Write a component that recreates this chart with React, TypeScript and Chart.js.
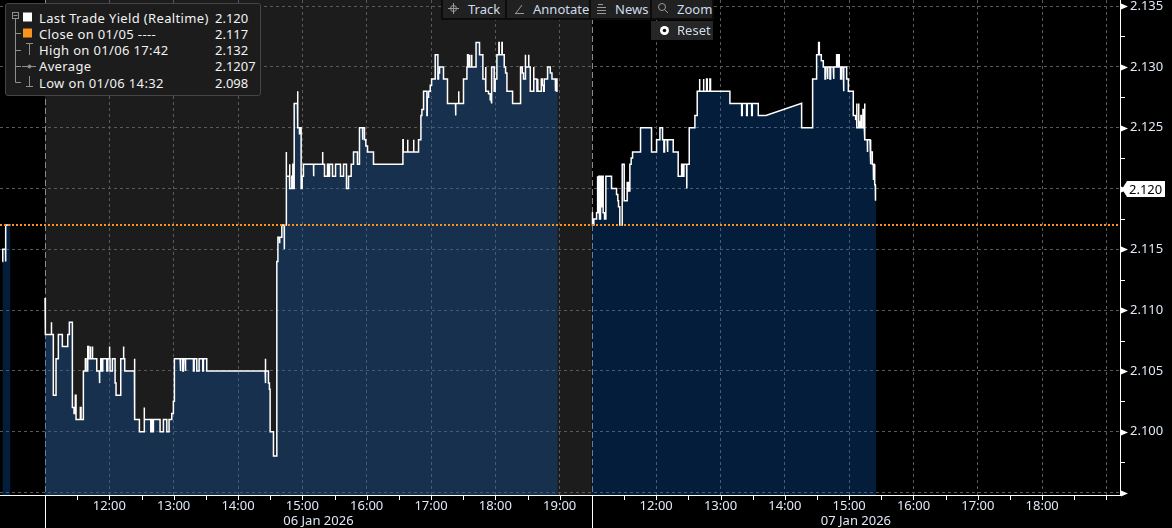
import React, { useEffect, useRef } from "react";
import { Chart, registerables } from "chart.js";

Chart.register(...registerables);

// ---------------- data ----------------
const DAY_LABELS = ["05 Jan 2026", "06 Jan 2026", "07 Jan 2026"];
const SESSION_OPEN = 11; // 11:00
const SESSION_CLOSE = 19.5; // 19:30
const VIEW_START = { day: 0, hour: 18.8 };
const VIEW_END = { day: 2, hour: 19.21 };
const SHADED_DAYS = [1];
const LABELLED_DAYS = [1, 2];
const HOUR_TICKS = [11, 11.5, 12, 12.5, 13, 13.5, 14, 14.5, 15, 15.5, 16, 16.5, 17, 17.5, 18, 18.5, 19];
const Y_TICKS = [2.095, 2.1, 2.105, 2.11, 2.115, 2.12, 2.125, 2.13, 2.135];
const Y_MIN = 2.0948;
const Y_MAX = 2.1355;
const PREV_CLOSE = 2.117;
const LAST_VALUE = 2.12;

const legendRows = [
  { label: "Last Trade Yield (Realtime)", value: "2.120" },
  { label: "Close on 01/05 ----", value: "2.117" },
  { label: "High on 01/06 17:42", value: "2.132" },
  { label: "Average", value: "2.1207" },
  { label: "Low on 01/06 14:32", value: "2.098" },
];
const toolbarItems = ["Track", "Annotate", "News", "Zoom"];
const resetLabel = "Reset";

// 05 Jan (tail of session)
const jan05Time = [18.838, 18.843, 18.885, 18.89, 18.963];
const jan05Yield = [2.114, 2.115, 2.114, 2.117, 2.117];

// 06 Jan
const jan06Time = [
  11.0, 11.005, 11.093, 11.104, 11.129, 11.171, 11.207, 11.269, 11.353, 11.378,
  11.425, 11.451, 11.471, 11.482, 11.549, 11.56, 11.596, 11.627, 11.638, 11.664,
  11.68, 11.7, 11.711, 11.731, 11.742, 11.804, 11.844, 11.851, 11.866, 11.882,
  11.897, 11.96, 11.975, 12.0, 12.006, 12.011, 12.047, 12.089, 12.104, 12.177,
  12.218, 12.224, 12.239, 12.389, 12.395, 12.467, 12.54, 12.545, 12.644, 12.659,
  12.675, 12.685, 12.788, 12.84, 12.893, 12.928, 12.97, 12.995, 13.011, 13.1,
  13.11, 13.141, 13.151, 13.177, 13.188, 13.307, 13.318, 13.359, 13.395, 13.452,
  13.462, 13.514, 14.421, 14.426, 14.432, 14.473, 14.488, 14.499, 14.551, 14.603,
  14.62, 14.644, 14.65, 14.681, 14.717, 14.722, 14.748, 14.753, 14.8, 14.806,
  14.836, 14.852, 14.857, 14.873, 14.924, 14.93, 14.955, 14.966, 14.981, 14.997,
  15.017, 15.173, 15.178, 15.313, 15.318, 15.344, 15.391, 15.406, 15.422, 15.469,
  15.516, 15.593, 15.64, 15.686, 15.717, 15.759, 15.795, 15.857, 15.888, 15.935,
  15.94, 15.966, 15.987, 16.013, 16.106, 16.563, 16.568, 16.635, 16.64, 16.728,
  16.733, 16.806, 16.843, 16.858, 16.884, 16.936, 16.941, 16.962, 16.988, 17.009,
  17.065, 17.107, 17.117, 17.132, 17.194, 17.256, 17.381, 17.386, 17.428, 17.433,
  17.505, 17.558, 17.568, 17.578, 17.599, 17.604, 17.63, 17.635, 17.7, 17.754,
  17.806, 17.848, 17.853, 17.894, 17.92, 17.935, 17.946, 17.982, 17.997, 18.024,
  18.055, 18.06, 18.102, 18.107, 18.138, 18.159, 18.18, 18.268, 18.392, 18.418,
  18.438, 18.465, 18.47, 18.516, 18.521, 18.543, 18.594, 18.599, 18.646, 18.657,
  18.662, 18.714, 18.729, 18.75, 18.76, 18.812, 18.854, 18.88, 18.932, 18.937,
  18.958, 18.97,
];
const jan06Yield = [
  2.111, 2.108, 2.109, 2.108, 2.103, 2.106, 2.108, 2.107, 2.108, 2.109,
  2.102, 2.1015, 2.103, 2.101, 2.102, 2.101, 2.105, 2.106, 2.105, 2.107,
  2.106, 2.107, 2.106, 2.107, 2.106, 2.105, 2.104, 2.105, 2.106, 2.105,
  2.106, 2.105, 2.106, 2.107, 2.106, 2.105, 2.106, 2.104, 2.103, 2.106,
  2.107, 2.106, 2.105, 2.106, 2.101, 2.1, 2.102, 2.101, 2.1, 2.101,
  2.1, 2.101, 2.1, 2.101, 2.1, 2.101, 2.1015, 2.1025, 2.106, 2.105,
  2.106, 2.105, 2.106, 2.105, 2.106, 2.105, 2.106, 2.105, 2.106, 2.105,
  2.106, 2.105, 2.106, 2.104, 2.105, 2.104, 2.1035, 2.1, 2.098, 2.114,
  2.116, 2.1155, 2.116, 2.117, 2.115, 2.117, 2.123, 2.121, 2.122, 2.12,
  2.121, 2.122, 2.12, 2.127, 2.128, 2.125, 2.1245, 2.125, 2.12, 2.121,
  2.122, 2.121, 2.122, 2.123, 2.122, 2.121, 2.122, 2.121, 2.122, 2.121,
  2.122, 2.121, 2.122, 2.12, 2.121, 2.122, 2.123, 2.122, 2.125, 2.124,
  2.125, 2.124, 2.1235, 2.123, 2.122, 2.124, 2.123, 2.124, 2.123, 2.124,
  2.123, 2.124, 2.126, 2.1265, 2.128, 2.126, 2.1275, 2.128, 2.1285, 2.129,
  2.131, 2.129, 2.1295, 2.13, 2.129, 2.127, 2.126, 2.127, 2.128, 2.127,
  2.129, 2.13, 2.131, 2.13, 2.131, 2.13, 2.131, 2.13, 2.132, 2.131,
  2.129, 2.13, 2.128, 2.1278, 2.1273, 2.127, 2.13, 2.128, 2.129, 2.131,
  2.132, 2.131, 2.132, 2.131, 2.13, 2.1295, 2.128, 2.127, 2.13, 2.1295,
  2.129, 2.131, 2.13, 2.131, 2.13, 2.128, 2.13, 2.129, 2.128, 2.129,
  2.128, 2.129, 2.1285, 2.128, 2.129, 2.13, 2.1295, 2.129, 2.128, 2.129,
  2.128, 2.128,
];

// 07 Jan
const jan07Time = [
  11.0, 11.01, 11.031, 11.073, 11.083, 11.093, 11.109, 11.119, 11.135, 11.145,
  11.166, 11.176, 11.197, 11.218, 11.306, 11.384, 11.404, 11.415, 11.435, 11.472,
  11.503, 11.549, 11.57, 11.591, 11.611, 11.633, 11.757, 11.928, 12.006, 12.058,
  12.099, 12.12, 12.13, 12.172, 12.182, 12.265, 12.342, 12.395, 12.41, 12.431,
  12.473, 12.478, 12.514, 12.602, 12.638, 12.669, 12.68, 12.731, 12.742, 12.783,
  12.794, 12.835, 12.845, 13.146, 13.328, 13.338, 13.406, 13.416, 13.484, 13.494,
  13.587, 13.706, 14.261, 14.432, 14.494, 14.525, 14.536, 14.567, 14.598,
  14.624, 14.634, 14.66, 14.67, 14.701, 14.712, 14.753, 14.764, 14.805, 14.815,
  14.836, 14.846, 14.867, 14.883, 14.909, 14.919, 14.961, 14.987, 15.064, 15.101,
  15.116, 15.121, 15.142, 15.152, 15.168, 15.183, 15.189, 15.214, 15.22, 15.235,
  15.246, 15.282, 15.287, 15.324, 15.334, 15.339, 15.36, 15.375, 15.38, 15.391,
  15.401, 15.406, 15.411, 15.42,
];
const jan07Yield = [
  2.118, 2.117, 2.1175, 2.118, 2.121, 2.118, 2.121, 2.1175, 2.121, 2.1185,
  2.121, 2.118, 2.1175, 2.121, 2.12, 2.1195, 2.119, 2.1185, 2.117, 2.122,
  2.119, 2.1205, 2.1198, 2.122, 2.1225, 2.123, 2.125, 2.123, 2.124, 2.125,
  2.124, 2.123, 2.124, 2.123, 2.124, 2.123, 2.121, 2.122, 2.121, 2.122,
  2.12, 2.122, 2.125, 2.126, 2.128, 2.129, 2.128, 2.129, 2.128, 2.129,
  2.128, 2.129, 2.128, 2.127, 2.126, 2.127, 2.126, 2.127, 2.126, 2.127,
  2.126, 2.126, 2.125, 2.129, 2.131, 2.132, 2.131, 2.1305, 2.13,
  2.129, 2.13, 2.129, 2.13, 2.129, 2.13, 2.129, 2.13, 2.131, 2.13,
  2.131, 2.13, 2.129, 2.13, 2.128, 2.13, 2.129, 2.128, 2.126, 2.1257,
  2.127, 2.125, 2.127, 2.1255, 2.125, 2.126, 2.125, 2.1265, 2.125, 2.127,
  2.124, 2.123, 2.124, 2.123, 2.122, 2.123, 2.122, 2.1207, 2.122, 2.121,
  2.1203, 2.119, 2.12, 2.12,
];
// 07 Jan: interval without prints, drawn as a straight line
const jan07BridgeTime = [13.706, 14.261, 14.261];
const jan07BridgeYield = [2.126, 2.127, 2.125];

// ---------------- helpers ----------------
const FONT = '"Noto Sans", "DejaVu Sans", sans-serif';
const TEXT = "#dfe8f4";
const GRID = "#595959";
const ORANGE = "#f7931e";
const FILL = "rgba(10,100,205,0.29)";
const SESSION_LEN = SESSION_CLOSE - SESSION_OPEN;

const toX = (day: number, hour: number) => day * SESSION_LEN + hour - SESSION_OPEN;
const hourOf = (v: number) => {
  const d = Math.floor((v + 1e-6) / SESSION_LEN);
  return Math.round((SESSION_OPEN + v - d * SESSION_LEN) * 1000) / 1000;
};

type Tick = { t: number; y: number; linear?: boolean };

// prints of one day; optional bridge joined by straight lines instead of steps
const dayTicks = (times: number[], ylds: number[], bT: number[] = [], bY: number[] = []): Tick[] => {
  const main = times.map((t, i) => ({ t, y: ylds[i] }));
  if (!bT.length) return main;
  const bridge = bT.map((t, i) => ({ t, y: bY[i], linear: i > 0 }));
  return [
    ...main.filter((p) => p.t < bT[0]),
    ...bridge,
    ...main.filter((p) => p.t > bT[bT.length - 1]),
  ];
};

// step-after drawing: value holds until the next print
const stepPoints = (day: number, ticks: Tick[]) => {
  const out: { x: number; y: number | null }[] = [];
  ticks.forEach((p, i) => {
    const x = toX(day, p.t);
    if (i > 0 && !p.linear) out.push({ x, y: ticks[i - 1].y });
    out.push({ x, y: p.y });
  });
  return out;
};

const X_MIN = toX(VIEW_START.day, VIEW_START.hour);
const X_MAX = toX(VIEW_END.day, VIEW_END.hour);

const lastTradeData = [
  ...stepPoints(0, dayTicks(jan05Time, jan05Yield)),
  { x: toX(0, 19.3), y: null },
  ...stepPoints(1, dayTicks(jan06Time, jan06Yield)),
  { x: toX(1, 19.3), y: null },
  ...stepPoints(2, dayTicks(jan07Time, jan07Yield, jan07BridgeTime, jan07BridgeYield)),
];
const closeData = [
  { x: X_MIN, y: PREV_CLOSE },
  { x: X_MAX, y: PREV_CLOSE },
];

const decorPlugin = {
  id: "decor",
  beforeDraw(chart: any) {
    const { ctx, chartArea: a, scales } = chart;
    const x = scales.x;
    ctx.save();
    ctx.fillStyle = "#000";
    ctx.fillRect(0, 0, chart.width, chart.height);
    SHADED_DAYS.forEach((d) => {
      const x1 = Math.max(a.left, x.getPixelForValue(toX(d, SESSION_OPEN)));
      const x2 = Math.min(a.right, x.getPixelForValue(toX(d, SESSION_CLOSE)));
      ctx.fillStyle = "#1c1c1c";
      ctx.fillRect(x1, a.top, x2 - x1, a.bottom - a.top);
    });
    ctx.restore();
  },
  beforeDatasetsDraw(chart: any) {
    const { ctx, chartArea: a, scales } = chart;
    const x = scales.x;
    ctx.save();
    ctx.strokeStyle = "#8a8a8a";
    ctx.lineWidth = 1;
    ctx.setLineDash([6, 3]);
    LABELLED_DAYS.forEach((d) => {
      const px = Math.round(x.getPixelForValue(toX(d, SESSION_OPEN))) + 0.5;
      ctx.beginPath();
      ctx.moveTo(px, a.top);
      ctx.lineTo(px, a.bottom);
      ctx.stroke();
    });
    ctx.restore();
  },
  afterDraw(chart: any) {
    const { ctx, chartArea: a, scales } = chart;
    const x = scales.x;
    const y = scales.y;
    ctx.save();
    // x tick marks
    ctx.strokeStyle = "#ffffff";
    ctx.lineWidth = 1;
    x.ticks.forEach((t: any) => {
      const px = Math.round(x.getPixelForValue(t.value)) + 0.5;
      const boundary = hourOf(t.value) === SESSION_OPEN;
      ctx.beginPath();
      ctx.moveTo(px, a.bottom);
      ctx.lineTo(px, boundary ? chart.height : a.bottom + 5);
      ctx.stroke();
    });
    // date labels
    ctx.font = `13px ${FONT}`;
    ctx.fillStyle = TEXT;
    ctx.textAlign = "center";
    ctx.textBaseline = "middle";
    LABELLED_DAYS.forEach((d) => {
      const s = Math.max(x.min, toX(d, SESSION_OPEN));
      const e = Math.min(x.max, toX(d, SESSION_CLOSE));
      ctx.fillText(DAY_LABELS[d], x.getPixelForValue((s + e) / 2), chart.height - 7);
    });
    // y axis arrows and minor ticks
    ctx.fillStyle = "#ffffff";
    Y_TICKS.forEach((v, i) => {
      const py = Math.round(y.getPixelForValue(v)) + 0.5;
      ctx.beginPath();
      ctx.moveTo(a.right + 1, py - 3);
      ctx.lineTo(a.right + 8, py);
      ctx.lineTo(a.right + 1, py + 3);
      ctx.closePath();
      ctx.fill();
      if (i < Y_TICKS.length - 1) {
        const pm = Math.round(y.getPixelForValue((v + Y_TICKS[i + 1]) / 2)) + 0.5;
        ctx.beginPath();
        ctx.moveTo(a.right, pm);
        ctx.lineTo(a.right + 5, pm);
        ctx.stroke();
      }
    });
    // last value tag
    const ly = Math.round(y.getPixelForValue(LAST_VALUE));
    ctx.beginPath();
    ctx.moveTo(a.right + 2, ly);
    ctx.lineTo(a.right + 7, ly - 8);
    ctx.lineTo(a.right + 45, ly - 8);
    ctx.lineTo(a.right + 45, ly + 8);
    ctx.lineTo(a.right + 7, ly + 8);
    ctx.closePath();
    ctx.fillStyle = "#ffffff";
    ctx.fill();
    ctx.fillStyle = "#000000";
    ctx.textAlign = "left";
    ctx.fillText(LAST_VALUE.toFixed(3), a.right + 9, ly + 1);
    ctx.restore();
  },
};

function Legend() {
  const L = 5;
  const T = 3;
  const rowY = [17.5, 33.8, 50, 66.3, 82.5];
  const grey = "#8f8f8f";
  return (
    <div
      style={{
        position: "absolute",
        left: L,
        top: T,
        width: 256,
        height: 93,
        background: "#1c1c1c",
        border: "1px solid #454545",
        borderRadius: 3,
        boxSizing: "border-box",
        color: "#f2f2f2",
        font: `13px ${FONT}`,
      }}
    >
      <svg width={256} height={93} style={{ position: "absolute", left: -1, top: -1 }}>
        <g transform={`translate(${-L},${-T})`} stroke={grey} strokeWidth={1} fill="none">
          <rect x={12.5} y={12.5} width={6} height={6} />
          <line x1={13.5} y1={15.5} x2={17.5} y2={15.5} />
          <line x1={15.5} y1={19} x2={15.5} y2={82.5} />
          <line x1={15.5} y1={33.5} x2={21} y2={33.5} />
          <line x1={15.5} y1={50.5} x2={21} y2={50.5} />
          <line x1={15.5} y1={66.5} x2={21} y2={66.5} />
          <line x1={15.5} y1={82.5} x2={21} y2={82.5} />
          <line x1={26} y1={43.5} x2={33} y2={43.5} />
          <line x1={29.5} y1={43.5} x2={29.5} y2={55} />
          <line x1={22} y1={66.5} x2={36} y2={66.5} />
          <circle cx={29.5} cy={66.5} r={1.5} fill={grey} />
          <line x1={29.5} y1={76} x2={29.5} y2={86.5} />
          <line x1={26} y1={86.5} x2={33} y2={86.5} />
          <rect x={23} y={12.5} width={9} height={9} fill="#ffffff" stroke="none" />
          <rect x={23} y={28.5} width={9} height={9} fill={ORANGE} stroke="none" />
        </g>
      </svg>
      {legendRows.map((r, i) => (
        <React.Fragment key={r.label}>
          <div
            style={{
              position: "absolute",
              left: 39 - L - 1,
              top: rowY[i] - T - 1 - 9,
              height: 18,
              lineHeight: "18px",
              whiteSpace: "pre",
              letterSpacing: "0.35px",
            }}
          >
            {r.label}
          </div>
          <div style={{ position: "absolute", left: 215 - L - 1, top: rowY[i] - T - 1 - 9, height: 18, lineHeight: "18px" }}>
            {r.value}
          </div>
        </React.Fragment>
      ))}
    </div>
  );
}

function Toolbar() {
  const btn = [
    { left: 443, width: 62 },
    { left: 507, width: 82 },
    { left: 591, width: 59 },
    { left: 652, width: 60 },
  ];
  const textLeft = [468, 533, 615, 677];
  const grey = "#9a9a9a";
  return (
    <>
      <div style={{ position: "absolute", left: 441, top: 0, width: 273, height: 20, background: "#0c0c0c" }} />
      {toolbarItems.map((t, i) => (
        <div
          key={t}
          style={{ position: "absolute", left: btn[i].left, top: 0, width: btn[i].width, height: 18, background: "#212121" }}
        />
      ))}
      <svg width={1172} height={45} style={{ position: "absolute", left: 0, top: 0, pointerEvents: "none" }}>
        <g stroke={grey} strokeWidth={1} fill="none">
          <circle cx={453.5} cy={8.5} r={3} />
          <line x1={448} y1={8.5} x2={459} y2={8.5} />
          <line x1={453.5} y1={3} x2={453.5} y2={14} />
          <line x1={516} y1={13} x2={522} y2={5} />
          <line x1={515} y1={13.5} x2={524} y2={13.5} />
          <line x1={598} y1={4.5} x2={603} y2={4.5} />
          <line x1={597} y1={7.5} x2={606} y2={7.5} />
          <line x1={597} y1={10.5} x2={606} y2={10.5} />
          <line x1={597} y1={13.5} x2={606} y2={13.5} />
          <circle cx={662} cy={7} r={3.5} />
          <line x1={664.5} y1={9.5} x2={668} y2={13} />
        </g>
      </svg>
      {toolbarItems.map((t, i) => (
        <div
          key={t + "t"}
          style={{ position: "absolute", left: textLeft[i], top: 0, height: 18, lineHeight: "17px", color: "#cfdcec", font: `13px ${FONT}` }}
        >
          {t}
        </div>
      ))}
      <div style={{ position: "absolute", left: 651, top: 21, width: 62, height: 19, background: "#262626" }}>
        <svg width={20} height={19} style={{ position: "absolute", left: 4, top: 0 }}>
          <circle cx={9.5} cy={9.5} r={4.5} fill="#ffffff" />
          <circle cx={9.5} cy={9.5} r={1.8} fill="#111" />
        </svg>
        <div style={{ position: "absolute", left: 26, top: 0, lineHeight: "19px", color: "#cfdcec", font: `13px ${FONT}` }}>{resetLabel}</div>
      </div>
    </>
  );
}

export default function App() {
  const ref = useRef<HTMLCanvasElement | null>(null);
  useEffect(() => {
    if (!ref.current) return;
    const chart = new Chart(ref.current, {
      type: "line",
      data: {
        datasets: [
          {
            label: "Close on 01/05",
            data: closeData,
            borderColor: ORANGE,
            borderWidth: 2,
            borderDash: [2, 2],
            pointRadius: 0,
            fill: false,
            order: 0,
          },
          {
            label: "Last Trade Yield (Realtime)",
            data: lastTradeData as any,
            borderColor: "#ffffff",
            borderWidth: 1.5,
            tension: 0,
            pointRadius: 0,
            fill: "start",
            backgroundColor: FILL,
            spanGaps: false,
            order: 1,
          },
        ],
      },
      options: {
        responsive: false,
        animation: false,
        devicePixelRatio: 1,
        layout: { padding: 0 },
        events: [],
        plugins: { legend: { display: false }, tooltip: { enabled: false } },
        scales: {
          x: {
            type: "linear",
            min: X_MIN,
            max: X_MAX,
            bounds: "data",
            afterBuildTicks: (scale: any) => {
              const ticks: any[] = [];
              LABELLED_DAYS.forEach((d) =>
                HOUR_TICKS.forEach((h) => {
                  const v = toX(d, h);
                  if (v >= scale.min && v <= scale.max) ticks.push({ value: v });
                })
              );
              scale.ticks = ticks;
            },
            afterFit: (scale: any) => {
              scale.height = 33;
              scale.paddingLeft = 0;
              scale.paddingRight = 0;
            },
            ticks: {
              autoSkip: false,
              maxRotation: 0,
              minRotation: 0,
              padding: 3,
              color: TEXT,
              font: { family: FONT, size: 13 },
              callback: (value: any) => {
                const v = Number(value);
                const h = hourOf(v);
                if (h !== Math.round(h) || h === SESSION_OPEN) return "";
                if (v > X_MAX - 0.3) return "";
                return `${h}:00`;
              },
            },
            grid: {
              color: (c: any) => {
                const v = c.tick ? c.tick.value : 0;
                const h = hourOf(v);
                return h === Math.round(h) && h !== SESSION_OPEN ? GRID : "rgba(0,0,0,0)";
              },
              lineWidth: 1,
              drawTicks: false,
              tickLength: 0,
            },
            border: { display: true, color: "#ffffff", width: 1, dash: [3, 3] },
          },
          y: {
            type: "linear",
            position: "right",
            min: Y_MIN,
            max: Y_MAX,
            bounds: "data",
            afterBuildTicks: (scale: any) => {
              scale.ticks = Y_TICKS.map((v) => ({ value: v }));
            },
            afterFit: (scale: any) => {
              scale.width = 52;
              scale.paddingTop = 0;
              scale.paddingBottom = 0;
            },
            ticks: {
              padding: 10,
              color: TEXT,
              font: { family: FONT, size: 13 },
              callback: (value: any) => {
                const v = Number(value);
                return v < Y_TICKS[1] - 0.0025 ? "" : v.toFixed(3);
              },
            },
            grid: { color: GRID, lineWidth: 1, drawTicks: false, tickLength: 0 },
            border: { display: true, color: "#ffffff", width: 1, dash: [3, 3] },
          },
        },
      },
      plugins: [decorPlugin],
    } as any);
    return () => chart.destroy();
  }, []);

  return (
    <div
      style={{
        position: "fixed",
        left: 0,
        top: 0,
        width: 1172,
        height: 528,
        background: "#000",
        overflow: "hidden",
        fontFamily: FONT,
      }}
    >
      <canvas ref={ref} width={1172} height={528} style={{ display: "block", width: 1172, height: 528 }} />
      <Legend />
      <Toolbar />
    </div>
  );
}
